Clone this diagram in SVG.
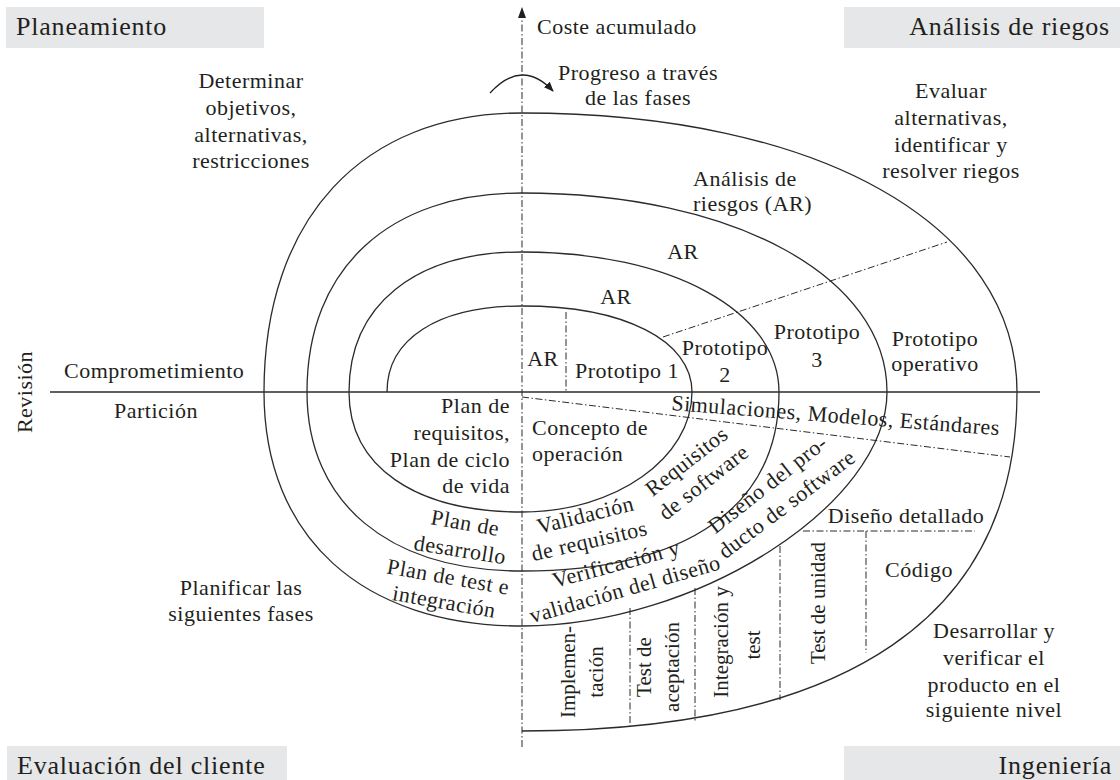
<svg xmlns="http://www.w3.org/2000/svg" width="1120" height="780" viewBox="0 0 1120 780">
<style>
text{font-family:"Liberation Serif","Times New Roman",serif;font-size:22px;letter-spacing:0.5px;fill:#231f20}
.big{font-size:26px;letter-spacing:0.8px}
.v{font-size:21px;letter-spacing:0}
.m{text-anchor:middle}
.e{text-anchor:end}
.band{fill:#e6e7e8}
.sp{fill:none;stroke:#2b2b2b;stroke-width:1.3}
.dd{fill:none;stroke:#2b2b2b;stroke-width:1;stroke-dasharray:7 2.5 1.5 2.5}
</style>
<defs>
<marker id="ah" viewBox="0 0 10 8" markerWidth="10" markerHeight="8" refX="9" refY="4" orient="auto" markerUnits="userSpaceOnUse">
<path d="M0,0 L10,4 L0,8 z" fill="#231f20"/>
</marker>
</defs>
<rect width="1120" height="780" fill="#fff"/>

<g id="quadrant-labels">
<g id="q-planeamiento"><rect class="band" x="6" y="7" width="258" height="41"/><text class="big" x="16" y="35">Planeamiento</text></g>
<g id="q-analisis"><rect class="band" x="844" y="7" width="276" height="41"/><text class="big e" x="1110" y="35">Análisis de riegos</text></g>
<g id="q-evaluacion"><rect class="band" x="7" y="746" width="280" height="34"/><text class="big" x="17" y="774">Evaluación del cliente</text></g>
<g id="q-ingenieria"><rect class="band" x="844" y="746" width="276" height="34"/><text class="big e" x="1112" y="774">Ingeniería</text></g>
</g>

<g id="connectors">
<path class="sp" d="M50,392 H1040"/>
<path class="dd" d="M522,747 V17"/>
<polygon points="522,7 518,18 526,18" fill="#231f20"/>
<path class="sp" d="M387,392 C387,338.7 438.3,306 522,306 C624,306 692,340.4 692,392"/>
<path class="sp" d="M692,392 C692,458 615.5,512 522,512 C414.7,512 349,466.4 349,392"/>
<path class="sp" d="M349,392 C349,305.2 414.7,252 522,252 C671,252 779,311 779,392"/>
<path class="sp" d="M779,392 C779,506 688,571 522,571 C388.7,571 307,503 307,392"/>
<path class="sp" d="M307,392 C307,268.6 388.7,193 522,193 C733.7,193 887,276.6 887,392"/>
<path class="sp" d="M887,392 C887,504 697,626 522,626 C362,626 264,537 264,392"/>
<path class="sp" d="M264,392 C264,219 362,113 522,113 C819,113 1017,224.6 1017,392"/>
<path class="sp" d="M1017,392 C1017,615.7 848.7,731 522,731"/>
<path class="dd" d="M566,312 V392"/>
<path class="dd" d="M663,337 L947,242"/>
<path class="dd" d="M522,397 L1010,457"/>
<path class="dd" d="M803,531 H975"/>
<path class="dd" d="M630,608 V727"/>
<path class="dd" d="M695,588 V722"/>
<path class="dd" d="M780,546 V700"/>
<path class="dd" d="M866,531 V653"/>
<path d="M490,93 Q522,58 553,91" fill="none" stroke="#231f20" stroke-width="1.3" marker-end="url(#ah)"/>
</g>

<g id="axis-labels">
<text id="coste" x="537" y="34">Coste acumulado</text>
<g id="progreso"><text class="m" x="638" y="80">Progreso a través</text><text class="m" x="638" y="105">de las fases</text></g>
<text id="comprometimiento" x="64" y="378">Comprometimiento</text>
<text id="particion" class="m" x="156" y="418">Partición</text>
<text id="revision" class="m" transform="translate(32,392) rotate(-90)">Revisión</text>
</g>

<g id="planning">
<g id="determinar"><text class="m" x="251" y="88">Determinar</text><text class="m" x="251" y="115">objetivos,</text><text class="m" x="251" y="142">alternativas,</text><text class="m" x="251" y="168">restricciones</text></g>
<g id="plan-requisitos"><text class="e" x="510" y="413">Plan de</text><text class="e" x="510" y="440">requisitos,</text><text class="e" x="510" y="467">Plan de ciclo</text><text class="e" x="510" y="493">de vida</text></g>
<g id="plan-desarrollo"><text class="m" transform="translate(464,530) rotate(10)">Plan de</text><text class="m" transform="translate(459,557) rotate(9)">desarrollo</text></g>
<g id="plan-test"><text class="m" transform="translate(447,584) rotate(10)">Plan de test e</text><text class="m" transform="translate(443,609) rotate(10)">integración</text></g>
<g id="planificar"><text class="m" x="241" y="595">Planificar las</text><text class="m" x="241" y="621">siguientes fases</text></g>
</g>

<g id="risk">
<g id="evaluar"><text class="m" x="951" y="98">Evaluar</text><text class="m" x="951" y="125">alternativas,</text><text class="m" x="951" y="152">identificar y</text><text class="m" x="951" y="178">resolver riegos</text></g>
<g id="analisis-ar"><text x="693" y="186">Análisis de</text><text x="693" y="211">riesgos (AR)</text></g>
<text id="ar3" class="m" x="683" y="259">AR</text>
<text id="ar2" class="m" x="616" y="304">AR</text>
<text id="ar1" class="m" x="543" y="366">AR</text>
<text id="proto1" x="575" y="378">Prototipo 1</text>
<g id="proto2"><text class="m" x="725" y="355">Prototipo</text><text class="m" x="725" y="382">2</text></g>
<g id="proto3"><text class="m" x="817" y="339">Prototipo</text><text class="m" x="817" y="367">3</text></g>
<g id="proto-op"><text class="m" x="935" y="346">Prototipo</text><text class="m" x="935" y="371">operativo</text></g>
</g>

<g id="engineering">
<text id="simulaciones" transform="translate(671,410) rotate(4.4)">Simulaciones, Modelos, Estándares</text>
<g id="concepto"><text x="532" y="435">Concepto de</text><text x="532" y="461">operación</text></g>
<g id="requisitos-sw"><text class="m" transform="translate(691,467) rotate(-38)">Requisitos</text><text class="m" transform="translate(708,488) rotate(-38)">de software</text></g>
<g id="diseno-producto"><text class="m" transform="translate(772,490) rotate(-38)">Diseño del pro-</text><text class="m" transform="translate(791,510) rotate(-37)">ducto de software</text></g>
<g id="validacion"><text class="m" transform="translate(587,522) rotate(-14)">Validación</text><text class="m" transform="translate(591,548) rotate(-13)">de requisitos</text></g>
<g id="verificacion"><text class="m" transform="translate(618,571) rotate(-15)">Verificación y</text><text class="m" transform="translate(627,596) rotate(-16)">validación del diseño</text></g>
<text id="diseno-detallado" class="m" x="906" y="523">Diseño detallado</text>
<text id="codigo" class="m" x="919" y="577">Código</text>
<g id="implementacion"><text class="m v" transform="translate(575,672) rotate(-90)">Implemen-</text><text class="m v" transform="translate(603,672) rotate(-90)">tación</text></g>
<g id="test-aceptacion"><text class="m v" transform="translate(651,667) rotate(-90)">Test de</text><text class="m v" transform="translate(679,667) rotate(-90)">aceptación</text></g>
<g id="integracion"><text class="m v" transform="translate(728,642) rotate(-90)">Integración y</text><text class="m v" transform="translate(760,645) rotate(-90)">test</text></g>
<text id="test-unidad" class="m v" transform="translate(825,603) rotate(-90)">Test de unidad</text>
<g id="desarrollar"><text class="m" x="994" y="638">Desarrollar y</text><text class="m" x="994" y="665">verificar el</text><text class="m" x="994" y="692">producto en el</text><text class="m" x="994" y="717">siguiente nivel</text></g>
</g>
</svg>
